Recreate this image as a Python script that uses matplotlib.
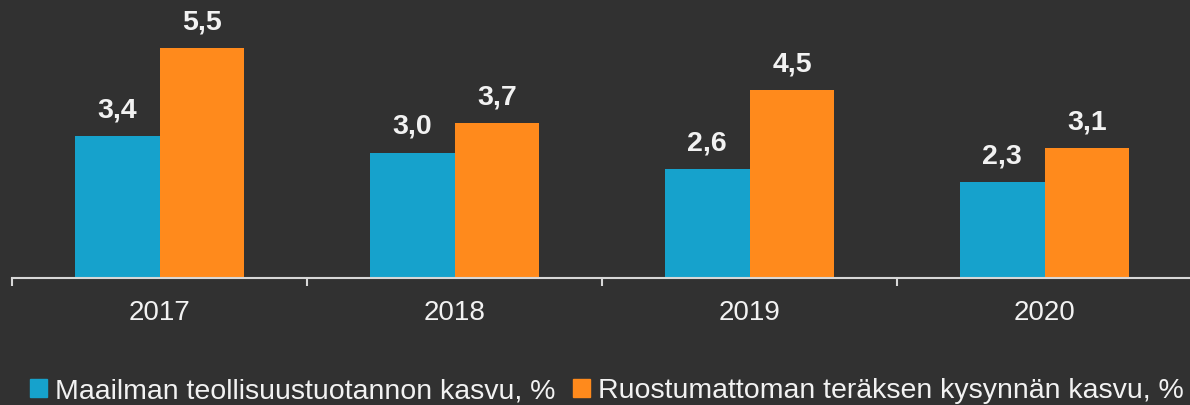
import matplotlib
matplotlib.use("Agg")
import matplotlib.pyplot as plt
from matplotlib.patches import Patch
import numpy as np

years = ["2017", "2018", "2019", "2020"]
industrial = [3.4, 3.0, 2.6, 2.3]
stainless = [5.5, 3.7, 4.5, 3.1]
labels = ["Maailman teollisuustuotannon kasvu, %", "Ruostumattoman teräksen kysynnän kasvu, %"]

bg = "#313131"
teal = "#16A2CC"
orange = "#FF8A1C"
fg = "#F2F2F2"

plt.rcParams["font.family"] = ["Liberation Sans", "DejaVu Sans"]

fig = plt.figure(figsize=(11.9, 4.05), dpi=100, facecolor=bg)
ax = fig.add_axes([12 / 1190, (405 - 278) / 405, 1180 / 1190, 251 / 405])
ax.set_facecolor(bg)

x = np.arange(len(years))
w = 0.288
b1 = ax.bar(x - w / 2, industrial, width=w, color=teal)
b2 = ax.bar(x + w / 2, stainless, width=w, color=orange)

for bars, vals in ((b1, industrial), (b2, stainless)):
    for r, v in zip(bars, vals):
        ax.annotate(f"{v:.1f}".replace(".", ","), (r.get_x() + r.get_width() / 2, v),
                    xytext=(0, 9), textcoords="offset points", ha="center", va="bottom",
                    fontsize=20.5, fontweight="bold", color=fg)

ax.set_xlim(-0.5, len(years) - 0.5)
ax.set_ylim(0, 6)
ax.set_yticks([])
for s in ("top", "right", "left"):
    ax.spines[s].set_visible(False)
ax.spines["bottom"].set_color("#d8d8d8")
ax.spines["bottom"].set_linewidth(1.5)

ax.set_xticks(x)
ax.set_xticklabels(years, fontsize=20, color=fg)
ax.tick_params(axis="x", which="major", length=0, pad=16)
ax.set_xticks(np.arange(-0.5, len(years), 1.0), minor=True)
ax.tick_params(axis="x", which="minor", length=6, width=1.5, color="#d8d8d8", direction="out")

handles = [Patch(color=teal), Patch(color=orange)]
leg = fig.legend(handles, labels, loc="lower center", bbox_to_anchor=(0.51, -0.062), ncol=2,
                 frameon=False, fontsize=20.5, handlelength=0.6, handleheight=0.6,
                 handletextpad=0.28, columnspacing=0.6, labelcolor=fg)

fig.savefig("out.png", dpi=100, facecolor=bg)
